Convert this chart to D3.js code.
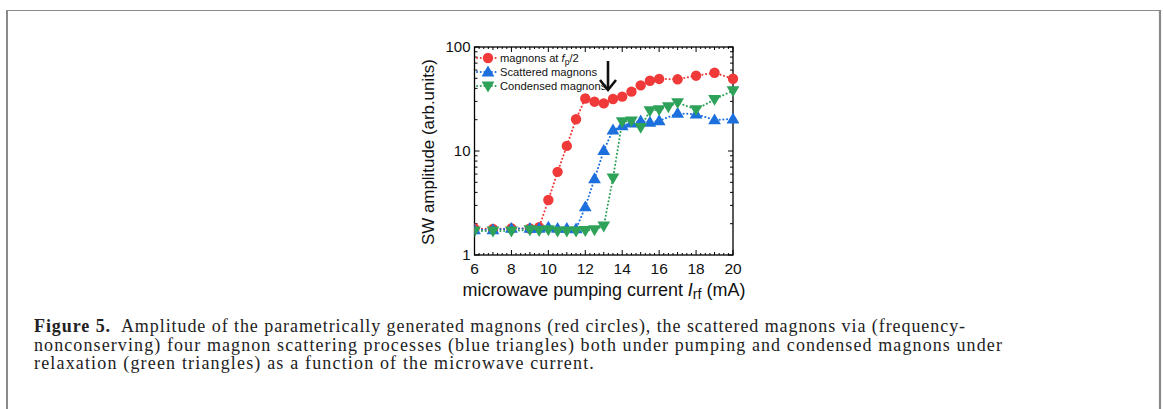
<!DOCTYPE html>
<html><head><meta charset="utf-8">
<script src="https://cdn.jsdelivr.net/npm/d3@7"></script>
<style>body{margin:0;background:#fff;}svg{display:block;}</style>
</head><body>
<svg id="c" width="1163" height="409"></svg>
<script>
// ---- data ----
const redX   = [6,7,8,9,9.5,10,10.5,11,11.5,12,12.5,13,13.5,14,14.5,15,15.5,16,17,18,19,20];
const redY   = [1.8,1.78,1.8,1.8,1.85,3.38,6.3,11.2,20.2,32,29.8,28.7,31.6,33.3,37.2,42.8,47.4,49.3,48.9,53,56.6,49.5];
const blueX  = [6,7,8,9,9.5,10,10.5,11,11.5,12,12.5,13,13.5,14,14.5,15,15.5,16,17,18,19,20];
const blueY  = [1.75,1.75,1.8,1.8,1.8,1.85,1.8,1.8,1.78,2.9,5.4,10.1,15.9,17.5,18.5,19.4,18.9,19.5,23,22.6,19.9,20.3];
const greenX = [6,7,8,9,9.5,10,10.5,11,11.5,12,12.5,13,13.5,14,14.5,15,15.5,16,16.5,17,18,19,20];
const greenY = [1.7,1.7,1.7,1.75,1.72,1.75,1.7,1.7,1.7,1.72,1.75,1.9,5.5,19.1,19.5,16.9,24.4,25,26.7,29.2,25,31.4,38];
const xTicks = [6,8,10,12,14,16,18,20];
const yTicks = [1,10,100];
const legendLabels = ["magnons at f_p/2","Scattered magnons","Condensed magnons"];
const caption = [
  ["Figure 5.", "  Amplitude of the parametrically generated magnons (red circles), the scattered magnons via (frequency-"],
  ["", "nonconserving) four magnon scattering processes (blue triangles) both under pumping and condensed magnons under"],
  ["", "relaxation (green triangles) as a function of the microwave current."]
];

const svg = d3.select("#c");
const W = 1163, H = 409;
const frame = "#8a8a8a";
svg.append("line").attr("x1",7).attr("x2",7).attr("y1",10.5).attr("y2",H).attr("stroke",frame).attr("stroke-width",2);
svg.append("line").attr("x1",6).attr("x2",1161).attr("y1",10.5).attr("y2",10.5).attr("stroke",frame).attr("stroke-width",1.2);
svg.append("line").attr("x1",1160).attr("x2",1160).attr("y1",10).attr("y2",H).attr("stroke",frame).attr("stroke-width",2.2);

const L = 474.5, R = 733, T = 47, B = 255;
const x = d3.scaleLinear().domain([6,20]).range([L,R]);
const y = d3.scaleLog().domain([1,100]).range([B,T]);
const font = "Liberation Sans, Arial, sans-serif";

function fitWidth(sel, target){
  const fs0 = +sel.attr("font-size");
  const w = sel.node().getComputedTextLength();
  sel.attr("font-size", fs0*target/w);
}

svg.append("clipPath").attr("id","clip").append("rect").attr("x",L).attr("y",T-6).attr("width",R-L+6).attr("height",B-T+12);

svg.append("rect").attr("x",L).attr("y",T).attr("width",R-L).attr("height",B-T).attr("fill","none").attr("stroke","#000").attr("stroke-width",1.3);

const tg = svg.append("g").attr("stroke","#000").attr("stroke-width",1);
d3.range(6,20.001,0.25).forEach(v=>{
  const isMaj = Math.abs(v/2-Math.round(v/2))<1e-6;
  const isInt = Math.abs(v-Math.round(v))<1e-6;
  const len = isMaj?5:(isInt?3:2);
  tg.append("line").attr("x1",x(v)).attr("x2",x(v)).attr("y1",B).attr("y2",B-len);
  tg.append("line").attr("x1",x(v)).attr("x2",x(v)).attr("y1",T).attr("y2",T+len);
});
[1,10].forEach(dec=>{
  for(let k=1;k<=9;k++){
    const v=dec*k, len = k===1?5:3;
    tg.append("line").attr("x1",L).attr("x2",L+len).attr("y1",y(v)).attr("y2",y(v));
    tg.append("line").attr("x1",R).attr("x2",R-len).attr("y1",y(v)).attr("y2",y(v));
  }
});
tg.append("line").attr("x1",L).attr("x2",L+5).attr("y1",y(100)).attr("y2",y(100));
tg.append("line").attr("x1",R).attr("x2",R-5).attr("y1",y(100)).attr("y2",y(100));

svg.append("g").selectAll("text").data(xTicks).join("text")
  .attr("x",d=>x(d)).attr("y",B+19).attr("text-anchor","middle")
  .attr("font-family",font).attr("font-size",15.5).attr("fill","#111").text(d=>d);
svg.append("g").selectAll("text").data(yTicks).join("text")
  .attr("x",L-4).attr("y",d=>y(d)+5).attr("text-anchor","end")
  .attr("font-family",font).attr("font-size",15).attr("fill","#111").text(d=>d);

const yl = svg.append("text").attr("transform",`translate(434,${(T+B)/2+1}) rotate(-90)`)
  .attr("text-anchor","middle").attr("font-family",font).attr("font-size",14).attr("fill","#111").text("SW amplitude (arb.units)");
fitWidth(yl, 186);
const xl = svg.append("text").attr("x",(462+746)/2).attr("y",296).attr("text-anchor","middle")
  .attr("font-family",font).attr("font-size",15).attr("fill","#111");
xl.append("tspan").text("microwave pumping current ");
xl.append("tspan").attr("font-style","italic").text("I");
xl.append("tspan").attr("font-size","0.8em").attr("dy",3).text("rf");
xl.append("tspan").attr("dy",-3).text(" (mA)");
fitWidth(xl, 283);

const colors = {red:"#f03a3a", blue:"#1c6fdc", green:"#2fa25a"};
const series = [
  {xs:redX, ys:redY, c:colors.red, m:"circle"},
  {xs:blueX, ys:blueY, c:colors.blue, m:"up"},
  {xs:greenX, ys:greenY, c:colors.green, m:"down"}
];
const line = d3.line().x(d=>x(d[0])).y(d=>y(d[1]));
const plot = svg.append("g").attr("clip-path","url(#clip)");
function marker(g, m, cx, cy, c){
  if(m==="circle") g.append("circle").attr("cx",cx).attr("cy",cy).attr("r",5.2).attr("fill",c);
  else {
    const s=6.4, h=10.5;
    const pts = m==="up" ? [[cx,cy-h*0.62],[cx-s,cy+h*0.42],[cx+s,cy+h*0.42]]
                         : [[cx,cy+h*0.62],[cx-s,cy-h*0.42],[cx+s,cy-h*0.42]];
    g.append("polygon").attr("points",pts.map(p=>p.join(",")).join(" ")).attr("fill",c);
  }
}
series.forEach(s=>{
  const data = s.xs.map((v,i)=>[v,s.ys[i]]);
  plot.append("path").attr("d",line(data)).attr("fill","none").attr("stroke",s.c)
    .attr("stroke-width",2).attr("stroke-dasharray","0.1 3.6").attr("stroke-linecap","round");
});
series.forEach(s=>{
  const g = plot.append("g");
  s.xs.forEach((v,i)=>marker(g,s.m,x(v),y(s.ys[i]),s.c));
});

const lg = svg.append("g");
const rows = [58,72,86];
const lfs = 11.2;
series.forEach((s,i)=>{
  lg.append("line").attr("x1",477).attr("x2",497).attr("y1",rows[i]).attr("y2",rows[i])
    .attr("stroke",s.c).attr("stroke-width",2).attr("stroke-dasharray","0.1 3.6").attr("stroke-linecap","round");
  marker(lg,s.m,488,rows[i],s.c);
});
const t0 = lg.append("text").attr("x",500).attr("y",rows[0]+4).attr("font-family",font).attr("font-size",lfs).attr("fill","#111");
t0.append("tspan").text("magnons at ");
t0.append("tspan").attr("font-style","italic").text("f");
t0.append("tspan").attr("font-size",8.5).attr("dy",2.5).text("p");
t0.append("tspan").attr("dy",-2.5).text("/2");
lg.append("text").attr("x",500).attr("y",rows[1]+4).attr("font-family",font).attr("font-size",lfs).attr("fill","#111").text(legendLabels[1]);
lg.append("text").attr("x",500).attr("y",rows[2]+4).attr("font-family",font).attr("font-size",lfs).attr("fill","#111").text(legendLabels[2]);

svg.append("line").attr("x1",608).attr("x2",608).attr("y1",61).attr("y2",89).attr("stroke","#111").attr("stroke-width",2.6);
svg.append("path").attr("d","M600,80 L608,90 L616,80").attr("fill","none").attr("stroke","#111").attr("stroke-width",2.6);

// caption
const serif = "Liberation Serif, Times New Roman, serif";
const capY = [332, 350.5, 369];
const capW = [932, 969, 561];
caption.forEach((c,i)=>{
  const t = svg.append("text").attr("x",34).attr("y",capY[i]).attr("font-family",serif).attr("font-size",18).attr("fill","#222").attr("xml:space","preserve");
  if(c[0]) t.append("tspan").attr("font-weight","bold").text(c[0]);
  t.append("tspan").text(c[1]);
  const w = t.node().getComputedTextLength();
  const n = (c[0]+c[1]).length;
  t.attr("letter-spacing", (capW[i]-w)/n);
});
</script>
</body></html>
